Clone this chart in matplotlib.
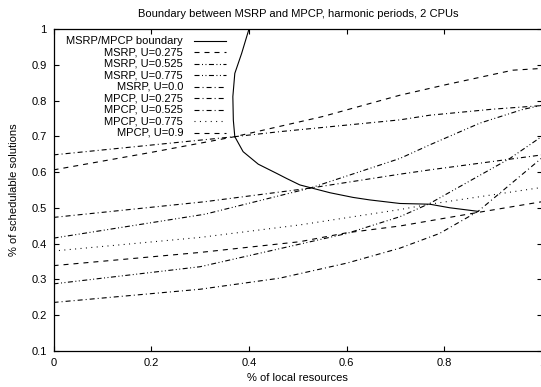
#!/usr/bin/env python3
"""Boundary between MSRP and MPCP, harmonic periods, 2 CPUs (gnuplot-like look)."""

import matplotlib
matplotlib.use("Agg")
import matplotlib.pyplot as plt

plt.rcParams["font.family"] = ["Liberation Sans", "DejaVu Sans"]
plt.rcParams["font.size"] = 8
plt.rcParams["lines.scale_dashes"] = False

# --- data -------------------------------------------------------------------
boundary_x = [0.400, 0.385, 0.371, 0.367, 0.368, 0.371, 0.388, 0.419, 0.457,
              0.477, 0.504, 0.532, 0.566, 0.613, 0.647, 0.709, 0.770, 0.811, 0.869]
boundary_y = [1.000, 0.932, 0.876, 0.811, 0.745, 0.699, 0.657, 0.622, 0.596,
              0.582, 0.564, 0.554, 0.542, 0.529, 0.522, 0.512, 0.510, 0.500, 0.490]

msrp_0275_x = [0.0, 0.2, 0.371, 0.55, 0.709, 0.805, 0.94, 1.0]
msrp_0275_y = [0.606, 0.655, 0.699, 0.755, 0.815, 0.845, 0.885, 0.890]

msrp_0525_x = [0.0, 0.31, 0.525, 0.709, 0.77, 0.873, 0.96, 1.0]
msrp_0525_y = [0.415, 0.482, 0.555, 0.638, 0.676, 0.737, 0.775, 0.787]

msrp_0775_x = [0.0, 0.3, 0.6, 0.709, 0.77, 0.934, 1.0]
msrp_0775_y = [0.287, 0.335, 0.428, 0.475, 0.512, 0.638, 0.700]

msrp_00_x = [0.0, 0.3, 0.463, 0.6, 0.709, 0.79, 0.869, 1.0]
msrp_00_y = [0.235, 0.272, 0.303, 0.345, 0.387, 0.428, 0.490, 0.640]

mpcp_0275_x = [0.0, 0.371, 0.463, 0.709, 0.77, 0.9, 1.0]
mpcp_0275_y = [0.648, 0.699, 0.713, 0.746, 0.759, 0.776, 0.786]

mpcp_0525_x = [0.0, 0.31, 0.525, 0.709, 0.77, 1.0]
mpcp_0525_y = [0.473, 0.517, 0.555, 0.594, 0.606, 0.648]

mpcp_0775_x = [0.0, 0.3, 0.504, 0.566, 0.709, 0.77, 1.0]
mpcp_0775_y = [0.379, 0.417, 0.452, 0.465, 0.495, 0.510, 0.557]

mpcp_09_x = [0.0, 0.3, 0.504, 0.6, 0.709, 0.869, 1.0]
mpcp_09_y = [0.338, 0.375, 0.405, 0.430, 0.449, 0.487, 0.517]

labels = ["MSRP/MPCP boundary", "MSRP, U=0.275", "MSRP, U=0.525", "MSRP, U=0.775",
          "MSRP, U=0.0", "MPCP, U=0.275", "MPCP, U=0.525", "MPCP, U=0.775",
          "MPCP, U=0.9"]
x_ticks = [0, 0.2, 0.4, 0.6, 0.8, 1]
x_tick_labels = ["0", "0.2", "0.4", "0.6", "0.8", "1"]
y_ticks = [0.1, 0.2, 0.3, 0.4, 0.5, 0.6, 0.7, 0.8, 0.9, 1.0]
y_tick_labels = ["0.1", "0.2", "0.3", "0.4", "0.5", "0.6", "0.7", "0.8", "0.9", "1"]

# line styles (in points, dashes not scaled by width)
solid = "-"
dashed = (0, (3.6, 3.6))
dashdot = (0, (3.6, 2.2, 0.7, 2.2))
dashdotdot = (0, (3.6, 1.8, 0.7, 1.8, 0.7, 1.8))
dotted = (0, (0.7, 3.2))

series = [
    (boundary_x, boundary_y, solid),
    (msrp_0275_x, msrp_0275_y, dashed),
    (msrp_0525_x, msrp_0525_y, dashdotdot),
    (msrp_0775_x, msrp_0775_y, dashdotdot),
    (msrp_00_x, msrp_00_y, dashdot),
    (mpcp_0275_x, mpcp_0275_y, dashdot),
    (mpcp_0525_x, mpcp_0525_y, dashdot),
    (mpcp_0775_x, mpcp_0775_y, dotted),
    (mpcp_09_x, mpcp_09_y, dashed),
]

fig = plt.figure(figsize=(5.41, 3.87), dpi=100)
ax = fig.add_axes([0.099, 0.0938, 0.903, 0.831])

for (xs, ys, ls), lab in zip(series, labels):
    ax.plot(xs, ys, color="black", lw=0.8, linestyle=ls, label=lab)

ax.set_xlim(0, 1)
ax.set_ylim(0.1, 1)
ax.set_xticks(x_ticks)
ax.set_xticklabels(x_tick_labels)
ax.set_yticks(y_ticks)
ax.set_yticklabels(y_tick_labels)
ax.tick_params(direction="in", length=3.5, width=0.8, top=True, right=True,
               labelsize=8, pad=5)
for s in ax.spines.values():
    s.set_linewidth(0.9)

ax.set_title("Boundary between MSRP and MPCP, harmonic periods, 2 CPUs",
             fontsize=8, pad=9)
ax.set_xlabel("% of local resources", fontsize=8, labelpad=4)
ax.set_ylabel("% of schedulable solutions", fontsize=8, labelpad=9)

# gnuplot-style key: right-aligned text, sample line to the right
row0 = 0.9636
step = 0.0357
for i, ((xs, ys, ls), lab) in enumerate(zip(series, labels)):
    yy = row0 - i * step
    ax.text(0.265, yy, lab, ha="right", va="center", fontsize=8,
            transform=ax.transAxes)
    ax.plot([0.287, 0.354], [yy, yy], color="black", lw=0.8, linestyle=ls,
            transform=ax.transAxes)

fig.savefig("out.png", dpi=100)
